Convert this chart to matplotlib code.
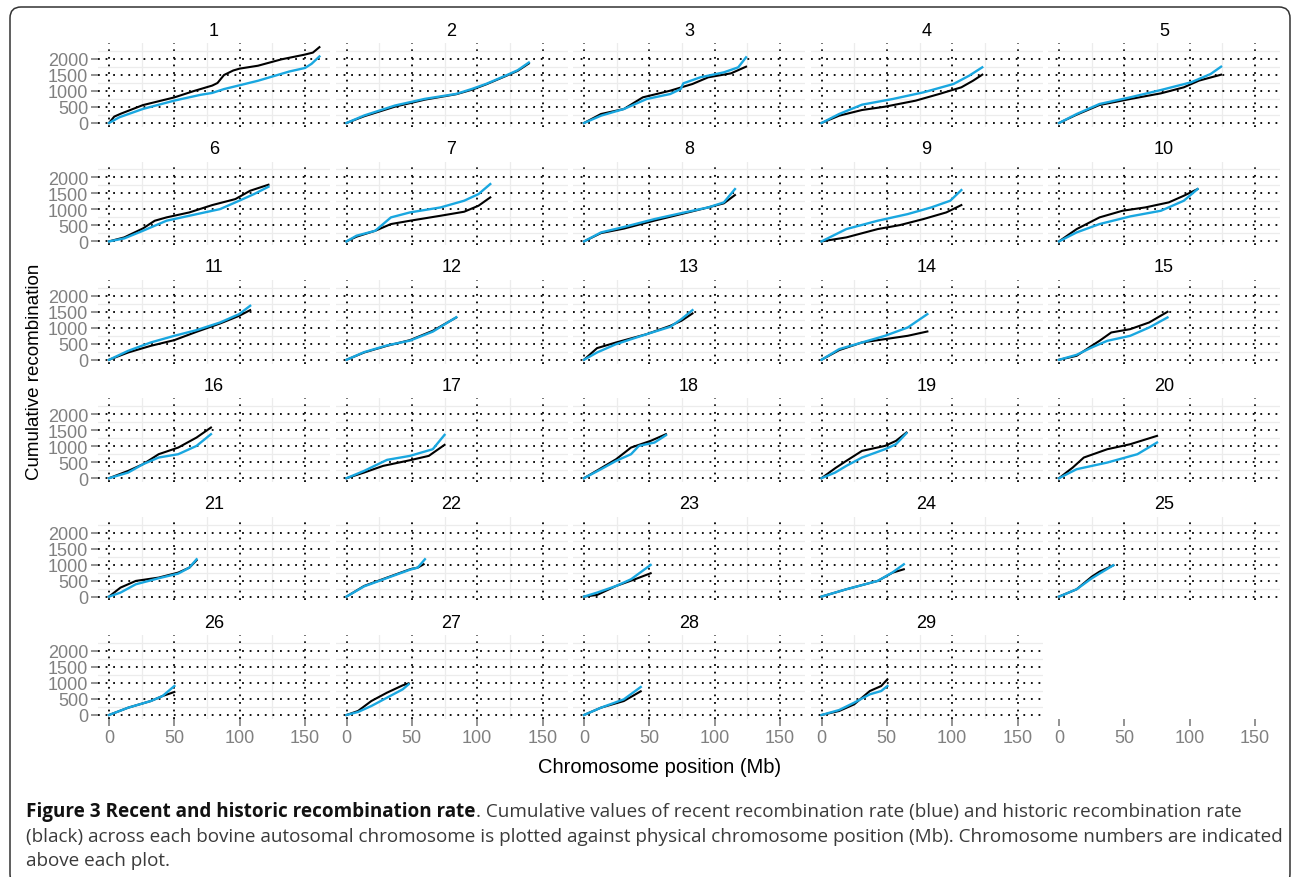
import matplotlib
matplotlib.use("Agg")
import matplotlib.pyplot as plt
from matplotlib import font_manager
from matplotlib.patches import FancyBboxPatch
from matplotlib.transforms import IdentityTransform

# ---------------- data (Mb, cumulative recombination) ----------------
chr1_hist = [(0,0),(4,200),(9,290),(26,560),(50,800),(65,1000),(79,1170),(83,1250),(88,1500),(95,1640),(100,1700),(114,1790),(132,1990),(149,2130),(156,2200),(161,2370)]
chr1_rec  = [(0,0),(8,180),(26,440),(50,700),(70,880),(79,940),(88,1060),(100,1180),(114,1320),(138,1610),(150,1720),(155,1850),(161,2080)]
chr2_hist = [(0,0),(13.5,210),(37,510),(60,730),(84,900),(96,1040),(107,1210),(122,1470),(131,1630),(139.5,1860)]
chr2_rec  = [(0,0),(13.5,235),(37,545),(60,755),(84,910),(96,1065),(107,1225),(122,1485),(131,1650),(139.5,1890)]
chr3_hist = [(0,0),(13,281),(30.5,437),(45,802),(66,1010),(83,1219),(95,1427),(112.5,1552),(124,1760)]
chr3_rec  = [(0,0),(13,229),(30.5,437),(48,750),(66,906),(74,1062),(76,1240),(89,1427),(107,1583),(118,1740),(124,2052)]
chr4_hist = [(0,0),(13.5,229),(31,406),(48.6,510),(72,698),(90,906),(107,1115),(116,1323),(123,1510)]
chr4_rec  = [(0,0),(13.5,281),(31,573),(54.5,750),(78,958),(101,1219),(113,1479),(123,1740)]
chr5_hist = [(0,0),(13.5,260),(31,562),(54.5,750),(78,927),(95.5,1115),(107,1323),(124,1510)]
chr5_rec  = [(0,0),(13.5,281),(31,594),(54.5,802),(78,1031),(101,1271),(116,1531),(124,1760)]
chr6_hist = [(0,0),(11.7,125),(26,406),(35,646),(44,750),(61.5,906),(79,1135),(96.7,1323),(108,1583),(122,1771)]
chr6_rec  = [(0,0),(11.7,94),(26,333),(44,646),(61.5,802),(85,1010),(99.6,1271),(111,1479),(122,1708)]
chr7_hist = [(0,0),(7.6,146),(22,333),(34,542),(48.6,646),(72,802),(90,927),(101,1115),(110,1375)]
chr7_rec  = [(0,0),(7.6,177),(22,333),(34,750),(48.6,906),(72,1062),(90,1271),(101,1479),(110,1792)]
chr8_hist = [(0,0),(13,260),(30.5,400),(54,650),(77,880),(95,1062),(107,1190),(115.5,1448)]
chr8_rec  = [(0,0),(13,281),(30.5,450),(54,698),(77,906),(95,1062),(107,1219),(115.5,1635)]
chr9_hist = [(0,0),(19,125),(43,385),(60,510),(78,698),(95.5,906),(107,1135)]
chr9_rec  = [(0,0),(19,385),(43,646),(66,854),(84,1062),(98.5,1271),(107,1604)]
chr10_hist = [(0,0),(13.5,385),(31,750),(48.6,958),(66,1062),(84,1219),(95.5,1427),(106,1635)]
chr10_rec  = [(0,0),(13.5,281),(31,542),(54.5,781),(78,958),(95.5,1271),(106,1635)]
chr11_hist = [(0,0),(14.7,229),(32,437),(50,615),(67,875),(85,1135),(99.6,1375),(108,1552)]
chr11_rec  = [(0,0),(14.7,281),(32,542),(50,750),(67,927),(85,1167),(99.6,1427),(108,1688)]
chr12_hist = [(0,0),(13.5,229),(31,437),(48.6,615),(66,906),(84,1323)]
chr12_rec  = [(0,0),(13.5,240),(31,450),(48.6,600),(66,880),(84,1330)]
chr13_hist = [(0,0),(10,365),(24.6,542),(48,802),(66,1062),(74.5,1219),(83,1448)]
chr13_rec  = [(0,0),(10,229),(24.6,490),(48,802),(66,1031),(74.5,1271),(83,1552)]
chr14_hist = [(0,0),(13.5,302),(31,542),(48.6,646),(66,750),(81,885)]
chr14_rec  = [(0,0),(13.5,333),(31,542),(48.6,750),(66,1010),(81,1427)]
chr15_hist = [(0,0),(13.5,125),(25,437),(31,594),(40,854),(54.5,958),(69,1167),(83,1500)]
chr15_rec  = [(0,0),(13.5,156),(25,385),(37,594),(54.5,750),(69,1010),(83,1323)]
chr16_hist = [(0,0),(14.7,229),(26,437),(38,750),(53,958),(67,1271),(78,1583)]
chr16_rec  = [(0,0),(14.7,177),(26,437),(38,646),(53,750),(67,1010),(78,1375)]
chr17_hist = [(0,0),(13.5,177),(28,385),(48.6,562),(63,698),(75,1042)]
chr17_rec  = [(0,0),(13.5,229),(31,573),(48.6,698),(66,906),(75,1354)]
chr18_hist = [(0,0),(13,313),(24.6,594),(36,958),(51,1167),(62.7,1375)]
chr18_rec  = [(0,0),(13,281),(24.6,542),(36,750),(42,1010),(54,1115),(62.7,1344)]
chr19_hist = [(0,0),(10.5,313),(19,542),(31,854),(48.6,1010),(57,1167),(65,1427)]
chr19_rec  = [(0,0),(10.5,177),(19,385),(31,646),(48.6,906),(57,1062),(65,1406)]
chr20_hist = [(0,0),(10.5,333),(19,646),(37,906),(54.5,1062),(75,1323)]
chr20_rec  = [(0,0),(13.5,281),(37,490),(60,750),(75,1115)]
chr21_hist = [(0,0),(8.8,281),(20.5,490),(38,594),(53,750),(61.5,906),(67,1135)]
chr21_rec  = [(0,0),(8.8,125),(20.5,385),(38,573),(53,719),(61.5,906),(67,1167)]
chr22_hist = [(0,0),(13.5,333),(31,594),(48.6,854),(54.5,906),(59,1010)]
chr22_rec  = [(0,0),(13.5,320),(31,580),(48.6,840),(54.5,906),(60,1167)]
chr23_hist = [(0,0),(10,52),(24.6,333),(39,542),(51,730)]
chr23_rec  = [(0,0),(10,125),(24.6,333),(36,542),(51,990)]
chr24_hist = [(0,0),(19,229),(43,490),(54.5,750),(63,854)]
chr24_rec  = [(0,0),(19,229),(43,490),(54.5,760),(63,1010)]
chr25_hist = [(0,0),(13.5,229),(25,620),(31,780),(41.6,979)]
chr25_rec  = [(0,0),(13.5,229),(25,570),(31,720),(41.6,979)]
chr26_hist = [(0,0),(14.7,229),(32,437),(41,594),(50,719)]
chr26_rec  = [(0,0),(14.7,229),(32,437),(41,594),(50,906)]
chr27_hist = [(0,0),(8.8,125),(19,437),(31,698),(43,927),(47.5,990)]
chr27_rec  = [(0,0),(8.8,94),(19,281),(31,542),(43,802),(47.5,958)]
chr28_hist = [(0,0),(13,229),(30.5,437),(43.4,740)]
chr28_rec  = [(0,0),(13,229),(30.5,490),(43.4,875)]
chr29_hist = [(0,0),(13.5,125),(25,333),(37,750),(45.7,906),(50.4,1115)]
chr29_rec  = [(0,0),(13.5,156),(25,385),(37,646),(45.7,750),(50.4,906)]

chromosomes = list(range(1, 30))
hist_series = [chr1_hist, chr2_hist, chr3_hist, chr4_hist, chr5_hist, chr6_hist, chr7_hist,
               chr8_hist, chr9_hist, chr10_hist, chr11_hist, chr12_hist, chr13_hist, chr14_hist,
               chr15_hist, chr16_hist, chr17_hist, chr18_hist, chr19_hist, chr20_hist, chr21_hist,
               chr22_hist, chr23_hist, chr24_hist, chr25_hist, chr26_hist, chr27_hist, chr28_hist,
               chr29_hist]
rec_series = [chr1_rec, chr2_rec, chr3_rec, chr4_rec, chr5_rec, chr6_rec, chr7_rec,
              chr8_rec, chr9_rec, chr10_rec, chr11_rec, chr12_rec, chr13_rec, chr14_rec,
              chr15_rec, chr16_rec, chr17_rec, chr18_rec, chr19_rec, chr20_rec, chr21_rec,
              chr22_rec, chr23_rec, chr24_rec, chr25_rec, chr26_rec, chr27_rec, chr28_rec,
              chr29_rec]

x_ticks = [0, 50, 100, 150]
x_minor = [25, 75, 125]
y_ticks = [0, 500, 1000, 1500, 2000]
y_minor = [250, 750, 1250, 1750, 2250]

x_title = "Chromosome position (Mb)"
y_title = "Cumulative recombination"
caption_bold = "Figure 3 Recent and historic recombination rate"
caption_line1 = ". Cumulative values of recent recombination rate (blue) and historic recombination rate"
caption_line2 = "(black) across each bovine autosomal chromosome is plotted against physical chromosome position (Mb). Chromosome numbers are indicated"
caption_line3 = "above each plot."

# ---------------- layout ----------------
plt.rcParams['font.family'] = ['Liberation Sans', 'DejaVu Sans']
W, H = 1293, 878
fig = plt.figure(figsize=(W / 100, H / 100), dpi=100)

PX_MB = 1.307
PX_VAL = 0.032
XLIM = (-8.4, 169.1)
YLIM = (-119, 2494)
col_x0 = [109 + 237.5 * c for c in range(5)]
row_y0 = [124 + 118.4 * r for r in range(6)]
GRAY = '#808080'
BLUE = '#19a7e0'


def make_axes(r, c):
    x0, y0 = col_x0[c], row_y0[r]
    left = x0 + XLIM[0] * PX_MB
    width = (XLIM[1] - XLIM[0]) * PX_MB
    top = y0 - YLIM[1] * PX_VAL
    height = (YLIM[1] - YLIM[0]) * PX_VAL
    ax = fig.add_axes([left / W, 1 - (top + height) / H, width / W, height / H])
    ax.set_xlim(*XLIM)
    ax.set_ylim(*YLIM)
    for s in ax.spines.values():
        s.set_visible(False)
    ax.set_xticks(x_ticks)
    ax.set_xticks(x_minor, minor=True)
    ax.set_yticks(y_ticks)
    ax.set_yticks(y_minor, minor=True)
    ax.tick_params(which='minor', length=0)
    ax.tick_params(which='major', color=GRAY, labelcolor=GRAY, length=4.8,
                   width=1.2, labelsize=13, pad=2.2)
    return ax


for i, n in enumerate(chromosomes):
    r, c = divmod(i, 5)
    ax = make_axes(r, c)
    ax.set_axisbelow(True)
    ax.grid(which='minor', color='#ececec', lw=0.9, ls='-')
    ax.grid(which='major', color='black', lw=1.3, ls=(0, (1, 3.2)))
    hx = [p[0] for p in hist_series[i]]
    hy = [p[1] for p in hist_series[i]]
    bx = [p[0] for p in rec_series[i]]
    by = [p[1] for p in rec_series[i]]
    ax.plot(hx, hy, color='black', lw=1.5, solid_joinstyle='round', zorder=3)
    ax.plot(bx, by, color=BLUE, lw=1.7, solid_joinstyle='round', zorder=4)
    ax.set_yticklabels([str(v) for v in y_ticks])
    if c != 0:
        ax.tick_params(axis='y', left=False, labelleft=False)
    if r != 5:
        ax.tick_params(axis='x', bottom=False, labelbottom=False)
    else:
        ax.set_xticklabels([str(v) for v in x_ticks])
    cx = col_x0[c] + (XLIM[0] + XLIM[1]) / 2 * PX_MB
    fig.text(cx / W, 1 - (31 + 118.4 * r) / H, str(n), ha='center', va='center',
             fontsize=13, color='black')

# axis-only panel under column 5
ax = make_axes(5, 4)
ax.set_facecolor('none')
ax.tick_params(axis='y', left=False, labelleft=False)
ax.set_xticklabels([str(v) for v in x_ticks])

fig.text(660 / W, 1 - 768 / H, x_title, ha='center', va='center', fontsize=14.5)
fig.text(35 / W, 1 - 372 / H, y_title, ha='center', va='center', fontsize=13.5, rotation=90)

# ---------------- caption ----------------
names = {f.name for f in font_manager.fontManager.ttflist}
cap_family = ['Liberation Sans Narrow'] if 'Liberation Sans Narrow' in names else ['Open Sans']
renderer = fig.canvas.get_renderer()

base = 12.0
tb = fig.text(26 / W, 1 - 817 / H, caption_bold, fontsize=base, fontweight='bold',
              family=cap_family, color='#111111', va='baseline')
t1 = fig.text(0, 1 - 817 / H, caption_line1, fontsize=base, family=cap_family,
              color='#3a3a3a', va='baseline')
t2 = fig.text(26 / W, 1 - 842 / H, caption_line2, fontsize=base, family=cap_family,
              color='#3a3a3a', va='baseline')
t3 = fig.text(26 / W, 1 - 866 / H, caption_line3, fontsize=base, family=cap_family,
              color='#3a3a3a', va='baseline')
w_line1 = tb.get_window_extent(renderer).width + t1.get_window_extent(renderer).width
w_line2 = t2.get_window_extent(renderer).width
size = base * 1250 / max(w_line1, w_line2)
for t in (tb, t1, t2, t3):
    t.set_fontsize(size)
wb = tb.get_window_extent(renderer).width
t1.set_x((26 + wb) / W)

# ---------------- rounded frame ----------------
frame = FancyBboxPatch((10, H - 886), 1280, 878, boxstyle="round,pad=0,rounding_size=11",
                       transform=IdentityTransform(), fill=False, edgecolor='#333333',
                       lw=1.1, zorder=10)
fig.patches.append(frame)

fig.savefig('out.png', dpi=100)
